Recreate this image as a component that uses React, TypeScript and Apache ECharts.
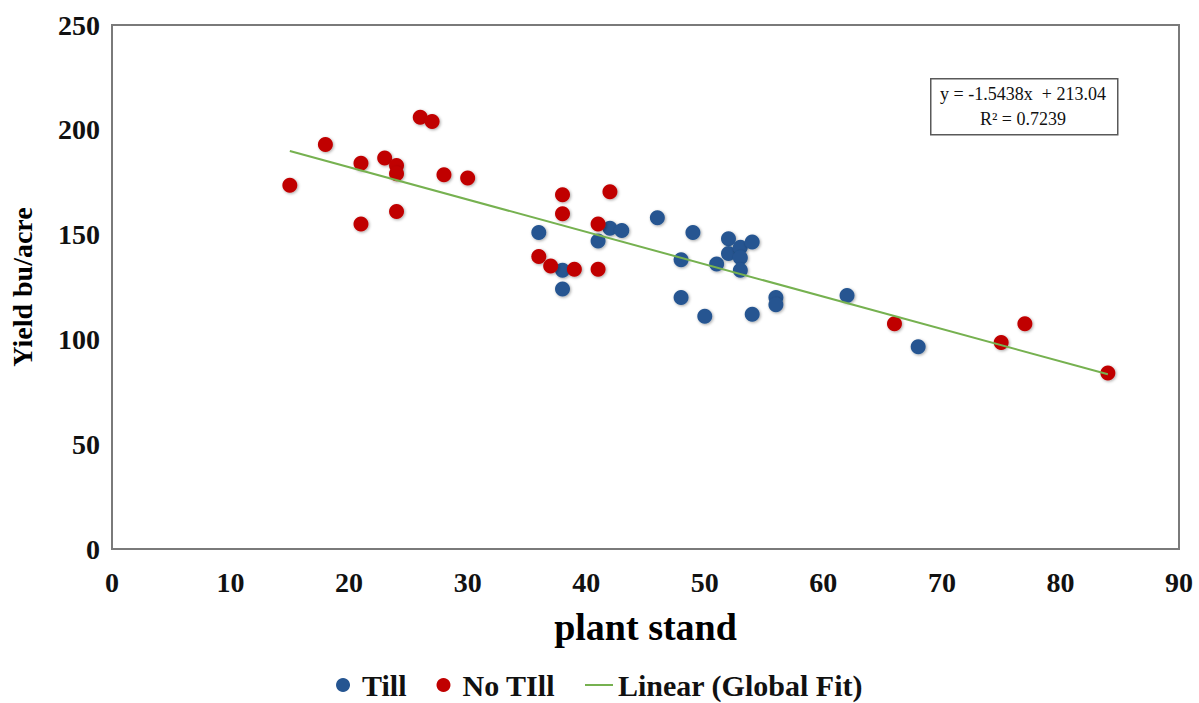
import React, { useEffect, useRef } from "react";
import * as echarts from "echarts";

// Till: [plant stand, yield]
const tillData: [number, number][] = [
  [36, 151], [38, 133], [38, 124], [41, 147], [42, 153], [43, 152],
  [46, 158], [48, 138], [48, 120], [49, 151], [50, 111], [51, 136],
  [52, 148], [52, 141], [53, 144], [53, 139], [53, 133], [54, 146.5],
  [54, 112], [56, 120], [56, 116.5], [62, 121], [68, 96.5],
];

// No Till: [plant stand, yield]
const noTillData: [number, number][] = [
  [15, 173.5], [18, 193], [21, 184], [21, 155], [23, 186.5], [24, 183],
  [24, 179], [24, 161], [26, 206], [27, 204], [28, 178.5], [30, 177],
  [36, 139.5], [37, 135], [38, 169], [38, 160], [39, 133.5], [41, 133.5],
  [41, 155], [42, 170.5], [66, 107.5], [75, 98.5], [77, 107.5], [84, 84],
];

// Linear (Global Fit) endpoints: y = -1.5438x + 213.04
const fitLine: [number, number][] = [
  [15, 189.88],
  [84, 83.36],
];

const xTicks = { min: 0, max: 90, interval: 10 };
const yTicks = { min: 0, max: 250, interval: 50 };

const equationLines = ["y = -1.5438x  + 213.04", "R² = 0.7239"];

const FONT = "'Liberation Serif', 'Times New Roman', serif";
const BLUE = "#255591";
const RED = "#C00000";
const GREEN = "#76B150";

export default function App() {
  const ref = useRef<HTMLDivElement>(null);

  useEffect(() => {
    if (!ref.current) return;
    const chart = echarts.init(ref.current, null, { renderer: "svg" });
    const markerShadow = {
      shadowBlur: 3,
      shadowColor: "rgba(0,0,0,0.35)",
      shadowOffsetX: 1,
      shadowOffsetY: 1,
    };
    chart.setOption({
      animation: false,
      backgroundColor: "#ffffff",
      grid: {
        left: 109,
        right: 20,
        top: 25,
        bottom: 154,
        show: true,
        borderColor: "#7a7a7a",
        borderWidth: 2,
        backgroundColor: "transparent",
      },
      legend: {
        top: 670,
        left: "center",
        padding: 0,
        itemGap: 30,
        itemWidth: 28,
        itemHeight: 14,
        textStyle: {
          fontFamily: FONT,
          fontWeight: "bold",
          fontSize: 30,
          lineHeight: 30,
          color: "#111",
        },
        data: [
          { name: "Till", icon: "circle", itemStyle: { color: BLUE } },
          { name: "No TIll", icon: "circle", itemStyle: { color: RED } },
          {
            name: "Linear (Global Fit)",
            icon: "path://M0,0 L28,0 L28,2 L0,2 Z",
            itemStyle: { color: GREEN },
          },
        ],
      },
      xAxis: {
        type: "value",
        min: xTicks.min,
        max: xTicks.max,
        interval: xTicks.interval,
        name: "plant stand",
        nameLocation: "middle",
        nameGap: 59,
        nameTextStyle: {
          fontFamily: FONT,
          fontWeight: "bold",
          fontSize: 38,
          color: "#000",
        },
        axisLine: { show: false },
        axisTick: { show: false },
        splitLine: { show: false },
        axisLabel: {
          margin: 19,
          fontFamily: FONT,
          fontWeight: "bold",
          fontSize: 28,
          color: "#111",
        },
      },
      yAxis: {
        type: "value",
        min: yTicks.min,
        max: yTicks.max,
        interval: yTicks.interval,
        name: "Yield bu/acre",
        nameLocation: "middle",
        nameGap: 76,
        nameTextStyle: {
          fontFamily: FONT,
          fontWeight: "bold",
          fontSize: 28,
          color: "#000",
        },
        axisLine: { show: false },
        axisTick: { show: false },
        splitLine: { show: false },
        axisLabel: {
          margin: 12,
          fontFamily: FONT,
          fontWeight: "bold",
          fontSize: 28,
          color: "#111",
        },
      },
      series: [
        {
          name: "Till",
          type: "scatter",
          data: tillData,
          symbol: "circle",
          symbolSize: 15,
          itemStyle: { color: BLUE, opacity: 1, ...markerShadow },
          z: 2,
        },
        {
          name: "No TIll",
          type: "scatter",
          data: noTillData,
          symbol: "circle",
          symbolSize: 15,
          itemStyle: { color: RED, opacity: 1, ...markerShadow },
          z: 3,
        },
        {
          name: "Linear (Global Fit)",
          type: "line",
          data: fitLine,
          showSymbol: false,
          symbol: "none",
          lineStyle: { color: GREEN, width: 2 },
          itemStyle: { color: GREEN },
          z: 4,
        },
      ],
      graphic: [
        {
          type: "rect",
          left: 930,
          top: 78,
          shape: { width: 187, height: 56 },
          style: { fill: "#fff", stroke: "#595959", lineWidth: 1.5 },
          z: 10,
        },
        {
          type: "text",
          x: 1023,
          y: 94,
          style: {
            text: equationLines[0],
            fontFamily: FONT,
            fontSize: 18,
            fill: "#111",
            align: "center",
            verticalAlign: "middle",
          },
          z: 11,
        },
        {
          type: "text",
          x: 1023,
          y: 119,
          style: {
            text: equationLines[1],
            fontFamily: FONT,
            fontSize: 18,
            fill: "#111",
            align: "center",
            verticalAlign: "middle",
          },
          z: 11,
        },
      ],
    });
    return () => chart.dispose();
  }, []);

  return (
    <div
      ref={ref}
      style={{ position: "fixed", left: 0, top: 0, width: 1199, height: 703 }}
    />
  );
}
